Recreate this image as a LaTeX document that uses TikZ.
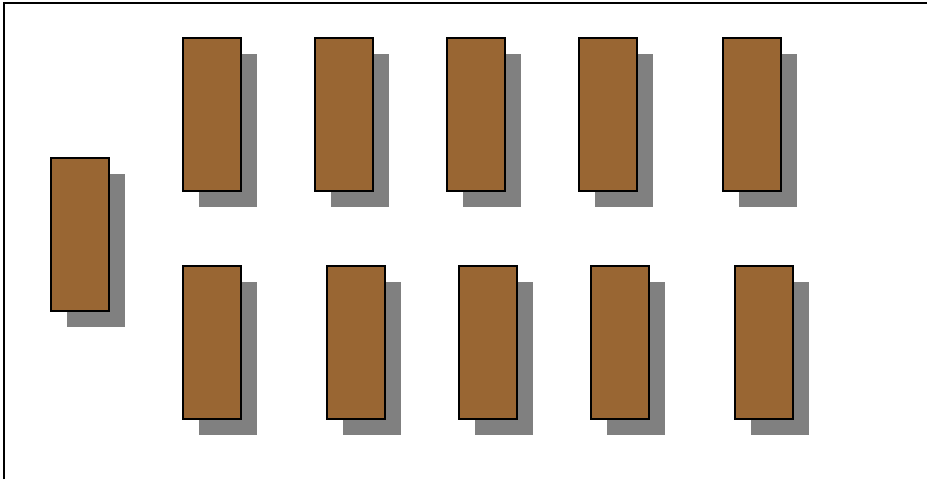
\documentclass[tikz,border=0pt]{standalone}
\usetikzlibrary{shadows}
\definecolor{bench}{RGB}{153,102,51}
\definecolor{shade}{RGB}{128,128,128}
\begin{document}
\begin{tikzpicture}[x=0.75pt,y=-0.75pt,
  desk/.style={draw=black, line width=1.1pt, fill=bench, minimum width=43.5pt, minimum height=114.75pt, inner sep=0pt, outer sep=0pt, anchor=north west,
    general shadow={fill=shade, shadow xshift=12pt, shadow yshift=-12pt}},
  frame/.style={line width=1.5pt, black}]
\useasboundingbox (0,0) rectangle (927,479);
\fill[white] (0,0) rectangle (927,479);
\draw[frame] (4,479) -- (4,3) -- (927,3);
\node[desk] (L) at (51,158) {};
\node[desk] (t1) at (183,38) {};
\node[desk] (t2) at (315,38) {};
\node[desk] (t3) at (447,38) {};
\node[desk] (t4) at (579,38) {};
\node[desk] (t5) at (723,38) {};
\node[desk] (b1) at (183,266) {};
\node[desk] (b2) at (327,266) {};
\node[desk] (b3) at (459,266) {};
\node[desk] (b4) at (591,266) {};
\node[desk] (b5) at (735,266) {};
\end{tikzpicture}
\end{document}
